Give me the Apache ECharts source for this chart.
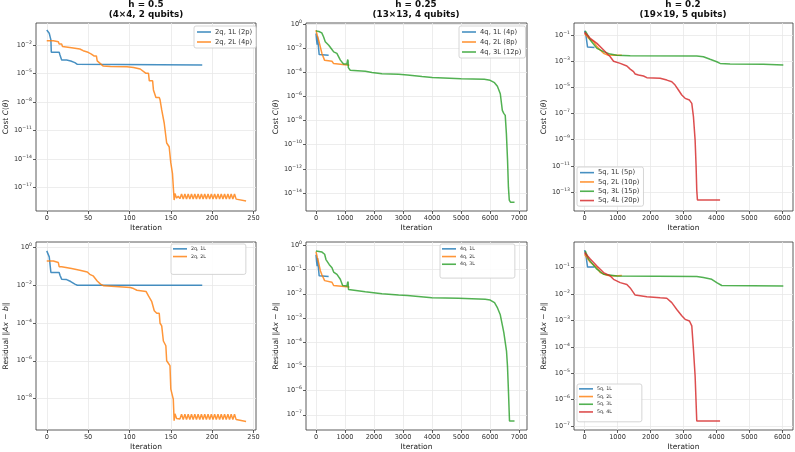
<!DOCTYPE html>
<html><head><meta charset="utf-8">
<script src="https://cdn.jsdelivr.net/npm/echarts@6/dist/echarts.min.js"></script>
<style>html,body{margin:0;padding:0;background:#fff}#c{width:795px;height:452px}</style>
</head><body><div id="c"></div>
<script>
// ---------- tick values ----------
const ticksX_h05 = [0, 50, 100, 150, 200, 250];
const ticksX_h025 = [0, 1000, 2000, 3000, 4000, 5000, 6000, 7000];
const ticksX_h02 = [0, 1000, 2000, 3000, 4000, 5000, 6000];
// exponents of the decade tick labels (10^n)
const ticksCost_h05 = [-17, -14, -11, -8, -5, -2];
const ticksCost_h025 = [-14, -12, -10, -8, -6, -4, -2, 0];
const ticksCost_h02 = [-13, -11, -9, -7, -5, -3, -1];
const ticksRes_h05 = [-8, -6, -4, -2, 0];
const ticksRes_h025 = [-7, -6, -5, -4, -3, -2, -1, 0];
const ticksRes_h02 = [-7, -6, -5, -4, -3, -2, -1];

// ---------- h = 0.5 cost ----------
const cost_2q1L = [[0,0.37],[2,0.37],[3,0.17],[4,0.17],[5,0.034],[5.5,1.7e-3],[15,1.7e-3],[16,8.9e-4],[17,8.9e-4],[18,2.6e-4],[24,2.6e-4],[25,2.1e-4],[29,2.1e-4],[30,1.4e-4],[34,1.4e-4],[35,9.3e-5],[37,9.3e-5],[38,7.9e-5],[188,7.9e-5]];
const cost_2q2L = [[0,0.028],[8,0.028],[9,0.022],[14,0.022],[15,0.0126],[18,0.0126],[19,6.8e-3],[30,5.2e-3],[40,3.8e-3],[44,2.5e-3],[50,1.7e-3],[54,1.1e-3],[57,7.1e-4],[60,7.1e-4],[61,2.1e-4],[63,1.4e-4],[68,6.3e-5],[77,5.4e-5],[97,5e-5],[105,4.2e-5],[113,3e-5],[120,1.05e-5],[123,1.05e-5],[124,1.7e-6],[128,1.7e-6],[129,1.9e-7],[131,1.9e-7],[132,3e-8],[136,3e-8],[137,1.7e-8],[138,1.7e-8],[139,1.5e-9],[141,1.5e-9],[142,6.3e-11],[144,6.3e-11],[145,5e-13],[148,2e-13],[149,2e-13],[150,4e-15],[152,3.2e-16],[154,5e-19],[155,2.5e-18],[157,8e-19],[159,1.3e-18],[161,7e-19],[163,2.2e-18],[165,6.3e-19],[167,2.2e-18],[169,6.3e-19],[171,2.2e-18],[173,6.3e-19],[175,2.2e-18],[177,6.3e-19],[179,2.2e-18],[181,6.3e-19],[183,2.2e-18],[185,6.3e-19],[187,2.2e-18],[189,6.3e-19],[191,2.2e-18],[193,6.3e-19],[195,2.2e-18],[197,6.3e-19],[199,2.2e-18],[201,6.3e-19],[203,2.2e-18],[205,6.3e-19],[207,2.2e-18],[209,6.3e-19],[211,2.2e-18],[213,6.3e-19],[215,2.2e-18],[217,6.3e-19],[219,2.2e-18],[221,6.3e-19],[223,2.2e-18],[225,6.3e-19],[227,2.2e-18],[229,6.3e-19],[230,4e-19],[241,4e-19]];
// ---------- h = 0.5 residual ----------
const res_2q1L = [[0,0.62],[2,0.62],[3,0.3],[4,0.3],[5,0.045],[15,0.045],[16,0.032],[17,0.032],[18,0.02],[24,0.019],[29,0.015],[34,0.011],[37,9.5e-3],[188,9.5e-3]];
const res_2q2L = [[0,0.18],[8,0.18],[9,0.15],[14,0.15],[15,0.091],[18,0.091],[19,0.081],[30,0.072],[40,0.059],[49,0.048],[52,0.036],[56,0.03],[58,0.03],[61,0.016],[65,0.011],[69,8.9e-3],[101,7.2e-3],[105,6.4e-3],[109,5.2e-3],[120,4.5e-3],[123,2.6e-3],[127,1.3e-3],[129,1.3e-3],[130,4.3e-4],[133,3.2e-4],[136,3.2e-4],[137,9.5e-5],[139,6.9e-5],[140,6.9e-5],[141,1.1e-5],[144,6.2e-6],[145,1e-6],[149,5.5e-7],[150,3.2e-8],[153,9.5e-9],[154,7e-10],[155,1.6e-9],[157,9e-10],[159,1.1e-9],[161,8.4e-10],[163,1.5e-9],[165,7.9e-10],[167,1.5e-9],[169,7.9e-10],[171,1.5e-9],[173,7.9e-10],[175,1.5e-9],[177,7.9e-10],[179,1.5e-9],[181,7.9e-10],[183,1.5e-9],[185,7.9e-10],[187,1.5e-9],[189,7.9e-10],[191,1.5e-9],[193,7.9e-10],[195,1.5e-9],[197,7.9e-10],[199,1.5e-9],[201,7.9e-10],[203,1.5e-9],[205,7.9e-10],[207,1.5e-9],[209,7.9e-10],[211,1.5e-9],[213,7.9e-10],[215,1.5e-9],[217,7.9e-10],[219,1.5e-9],[221,7.9e-10],[223,1.5e-9],[225,7.9e-10],[227,1.5e-9],[229,7.9e-10],[230,6.3e-10],[241,6.3e-10]];

// ---------- h = 0.25 cost ----------
const cost_4q1L = [[0,0.17],[20,0.05],[40,0.02],[50,0.1],[60,0.1],[110,3e-3],[150,2.7e-3],[436,2.7e-3]];
const cost_4q2L = [[0,0.32],[50,0.1],[92,0.047],[207,3.6e-3],[298,1e-3],[551,8.5e-4],[608,5.4e-4],[666,4e-4],[1150,4e-4]];
const cost_4q3L = [[0,0.28],[100,0.25],[200,0.19],[260,0.09],[320,0.035],[440,0.018],[550,8e-3],[610,5.1e-3],[720,3.8e-3],[840,1.05e-3],[950,4.9e-4],[1060,4.9e-4],[1090,4.5e-4],[1095,1.2e-3],[1100,4e-4],[1105,1e-3],[1115,2.5e-4],[1180,1.5e-4],[1700,1.26e-4],[1930,1e-4],[2270,7.9e-5],[2850,6.9e-5],[3150,6.2e-5],[3160,7.5e-5],[3170,5.8e-5],[3650,4.5e-5],[4000,3.7e-5],[5000,3e-5],[5800,2.7e-5],[6000,2.2e-5],[6150,1.4e-5],[6250,7e-6],[6350,1.7e-6],[6420,7e-8],[6470,4e-8],[6520,2.7e-8],[6560,8.3e-10],[6600,5e-12],[6630,3e-14],[6660,2.5e-15],[6700,1.7e-15],[6840,1.7e-15]];
// ---------- h = 0.25 residual ----------
const res_4q1L = [[0,0.41],[20,0.22],[40,0.14],[50,0.3],[60,0.3],[110,0.055],[150,0.052],[436,0.052]];
const res_4q2L = [[0,0.55],[50,0.3],[92,0.19],[150,0.09],[207,0.06],[298,0.035],[551,0.03],[608,0.022],[666,0.019],[1150,0.019]];
const res_4q3L = [[0,0.59],[207,0.53],[298,0.43],[344,0.26],[459,0.16],[551,0.12],[608,0.079],[723,0.063],[838,0.04],[918,0.022],[1067,0.021],[1095,0.032],[1100,0.02],[1105,0.032],[1120,0.015],[1182,0.014],[1698,0.012],[2272,0.01],[2846,8.9e-3],[3150,8.5e-3],[3160,9.3e-3],[3190,8.3e-3],[3994,6.9e-3],[4912,6.5e-3],[5830,5.9e-3],[6002,5.5e-3],[6151,4.3e-3],[6254,2.6e-3],[6346,1.4e-3],[6426,4.7e-4],[6472,2.5e-4],[6518,2.1e-4],[6564,4.3e-5],[6598,1e-5],[6633,8.1e-7],[6667,5.5e-8],[6840,5.5e-8]];

// ---------- h = 0.2 cost ----------
const cost_5q1L = [[0,0.21],[40,0.1],[90,0.012],[120,0.011],[300,0.011]];
const cost_5q2L = [[0,0.13],[121,0.056],[273,0.031],[374,0.013],[424,0.017],[475,7.1e-3],[576,4e-3],[700,3e-3],[900,2.8e-3],[1131,2.8e-3]];
const cost_5q3L = [[20,0.21],[71,0.13],[172,0.042],[374,9.5e-3],[576,5.4e-3],[778,3.5e-3],[980,2.9e-3],[1384,2.6e-3],[3404,2.5e-3],[3606,2.2e-3],[3808,1.4e-3],[4010,9.1e-4],[4111,6.8e-4],[4414,6e-4],[5424,5.8e-4],[6030,5.1e-4]];
const cost_5q4L = [[0,0.16],[172,0.056],[374,0.023],[576,7.1e-3],[778,2.2e-3],[879,1e-3],[1081,6.8e-4],[1283,4.3e-4],[1384,2.5e-4],[1485,1.6e-4],[1535,1.05e-4],[1636,8.7e-5],[1788,7.4e-5],[1889,5.5e-5],[2293,4.9e-5],[2495,3.6e-5],[2646,2.7e-5],[2747,1.5e-5],[2848,6.3e-6],[2949,2.6e-6],[3051,1.45e-6],[3182,1.07e-6],[3253,6e-7],[3303,5.8e-8],[3354,9.3e-10],[3384,8.7e-12],[3404,1.4e-13],[3424,2.5e-14],[4111,2.5e-14]];
// ---------- h = 0.2 residual ----------
const res_5q1L = [[0,0.46],[40,0.3],[90,0.105],[300,0.105]];
const res_5q2L = [[0,0.32],[172,0.16],[374,0.1],[475,0.065],[680,0.051],[880,0.048],[1131,0.05]];
const res_5q3L = [[20,0.43],[71,0.37],[121,0.21],[374,0.087],[576,0.056],[980,0.048],[3404,0.046],[3606,0.042],[3859,0.036],[4010,0.027],[4162,0.021],[6030,0.02]];
const res_5q4L = [[0,0.37],[172,0.21],[374,0.115],[576,0.065],[778,0.048],[879,0.036],[1081,0.027],[1283,0.023],[1384,0.017],[1535,9.1e-3],[1889,7.9e-3],[2293,7.2e-3],[2495,6.9e-3],[2646,4.7e-3],[2798,2.6e-3],[2949,1.5e-3],[3051,1.1e-3],[3182,9.5e-4],[3253,6.2e-4],[3303,8.1e-5],[3354,7.9e-6],[3404,1.55e-7],[4111,1.55e-7]];

// ---------- build ----------
const FONT = 'DejaVu Sans';
const COLORS = ['rgba(31,119,180,0.82)','rgba(255,127,14,0.82)','rgba(44,160,44,0.82)','rgba(214,39,40,0.82)'];
const toLog = d => d.map(p => [p[0], Math.log10(p[1])]);
const supLabel = v => '{b|10}{e|' + (v < 0 ? '\u2212' + (-v) : v) + '}';

const panels = [
  {grid:{left:36,top:23,width:220,height:188}, x:[-13,253], xt:ticksX_h05, y:[-19.45,0.31], yt:ticksCost_h05, yname:'Cost {i|C}({i|\u03b8})',
   series:[['2q, 1L (2p)',cost_2q1L],['2q, 2L (4p)',cost_2q2L]], legend:{left:194, top:26, big:true}},
  {grid:{left:306,top:23,width:221,height:188}, x:[-344,7270], xt:ticksX_h025, y:[-15.5,0.1], yt:ticksCost_h025, yname:'Cost {i|C}({i|\u03b8})',
   series:[['4q, 1L (4p)',cost_4q1L],['4q, 2L (8p)',cost_4q2L],['4q, 3L (12p)',cost_4q3L]], legend:{left:459, top:26, big:true}},
  {grid:{left:574,top:23,width:219,height:188}, x:[-321,6324], xt:ticksX_h02, y:[-14.45,-0.08], yt:ticksCost_h02, yname:'Cost {i|C}({i|\u03b8})',
   series:[['5q, 1L (5p)',cost_5q1L],['5q, 2L (10p)',cost_5q2L],['5q, 3L (15p)',cost_5q3L],['5q, 4L (20p)',cost_5q4L]], legend:{left:577, top:167, big:true}},
  {grid:{left:36,top:242,width:220,height:188}, x:[-13,253], xt:ticksX_h05, y:[-9.65,0.26], yt:ticksRes_h05, yname:'Residual \u2016{i|Ax} \u2212 {i|b}\u2016',
   series:[['2q, 1L',res_2q1L],['2q, 2L',res_2q2L]], legend:{left:171, top:244, big:false, padR:40, padB:14}},
  {grid:{left:306,top:242,width:221,height:188}, x:[-344,7270], xt:ticksX_h025, y:[-7.63,0.14], yt:ticksRes_h025, yname:'Residual \u2016{i|Ax} \u2212 {i|b}\u2016',
   series:[['4q, 1L',res_4q1L],['4q, 2L',res_4q2L],['4q, 3L',res_4q3L]], legend:{left:440, top:244, big:false, padR:40, padB:10}},
  {grid:{left:574,top:242,width:219,height:188}, x:[-321,6324], xt:ticksX_h02, y:[-7.15,-0.03], yt:ticksRes_h02, yname:'Residual \u2016{i|Ax} \u2212 {i|b}\u2016',
   series:[['5q, 1L',res_5q1L],['5q, 2L',res_5q2L],['5q, 3L',res_5q3L],['5q, 4L',res_5q4L]], legend:{left:577, top:384, big:false, padR:30, padB:6}}
];

const option = {
  animation:false,
  textStyle:{fontFamily:FONT},
  title:[
    {text:'h = 0.5\n(4\u00d74, 2 qubits)', left:146, top:-1},
    {text:'h = 0.25\n(13\u00d713, 4 qubits)', left:416, top:-1},
    {text:'h = 0.2\n(19\u00d719, 5 qubits)', left:683, top:-1}
  ].map(t => Object.assign(t, {textAlign:'center', padding:0, textStyle:{fontFamily:FONT, fontSize:8.8, fontWeight:'bold', lineHeight:10.5, color:'#111'}})),
  grid:[], xAxis:[], yAxis:[], legend:[], series:[]
};

panels.forEach((p, i) => {
  option.grid.push(Object.assign({show:true, borderColor:'#333', borderWidth:0.8, backgroundColor:'transparent', containLabel:false}, p.grid));
  option.xAxis.push({
    gridIndex:i, type:'value', min:p.x[0], max:p.x[1], position:'bottom',
    axisLine:{show:false, onZero:false},
    axisTick:{show:true, customValues:p.xt, length:3, lineStyle:{color:'#333', width:0.8}},
    axisLabel:{customValues:p.xt, formatter:v => String(v), fontSize:6.6, color:'#333', margin:4, fontFamily:FONT},
    splitLine:{show:true, lineStyle:{color:'#e8e8e8', width:0.8}},
    name:'Iteration', nameLocation:'middle', nameGap:13, nameTextStyle:{fontSize:7.5, color:'#222', fontFamily:FONT}
  });
  option.yAxis.push({
    gridIndex:i, type:'value', min:p.y[0], max:p.y[1], position:'left',
    axisLine:{show:false, onZero:false},
    axisTick:{show:true, customValues:p.yt, length:3, lineStyle:{color:'#333', width:0.8}},
    axisLabel:{customValues:p.yt, formatter:supLabel, margin:4,
      rich:{b:{fontSize:6.6, color:'#333', fontFamily:FONT}, e:{fontSize:4.6, color:'#333', fontFamily:FONT, padding:[0,0,5,0]}}},
    splitLine:{show:true, lineStyle:{color:'#e8e8e8', width:0.8}},
    name:p.yname, nameLocation:'middle', nameGap:26, nameRotate:90,
    nameTextStyle:{fontSize:7.5, color:'#222', fontFamily:FONT, rich:{i:{fontSize:7.5, fontStyle:'italic', color:'#222', fontFamily:FONT}}}
  });
  const L = p.legend;
  option.legend.push({
    data:p.series.map(s => s[0]), orient:'vertical', left:L.left, top:L.top,
    icon:'rect', itemWidth:14, itemHeight:1.6, itemGap:0,
    padding: L.big ? [1,4,1,3] : [1, L.padR, L.padB, 2],
    backgroundColor:'rgba(255,255,255,0.85)', borderColor:'#ccc', borderWidth:0.8, borderRadius:2,
    textStyle:{fontSize: L.big ? 6.8 : 4.8, lineHeight: L.big ? (p.series.length === 4 ? 9.3 : 10) : 7.7, color:'#333', fontFamily:FONT, padding:[0,0,0,-1]}
  });
  p.series.forEach((s, k) => {
    option.series.push({
      name:s[0], type:'line', xAxisIndex:i, yAxisIndex:i, data:toLog(s[1]),
      symbol:'none', showSymbol:false, lineStyle:{width:1.5, color:COLORS[k]}, itemStyle:{color:COLORS[k]},
      clip:true, z:2+k
    });
  });
});

const chart = echarts.init(document.getElementById('c'), null, {renderer:'canvas'});
chart.setOption(option);
</script>
</body></html>
